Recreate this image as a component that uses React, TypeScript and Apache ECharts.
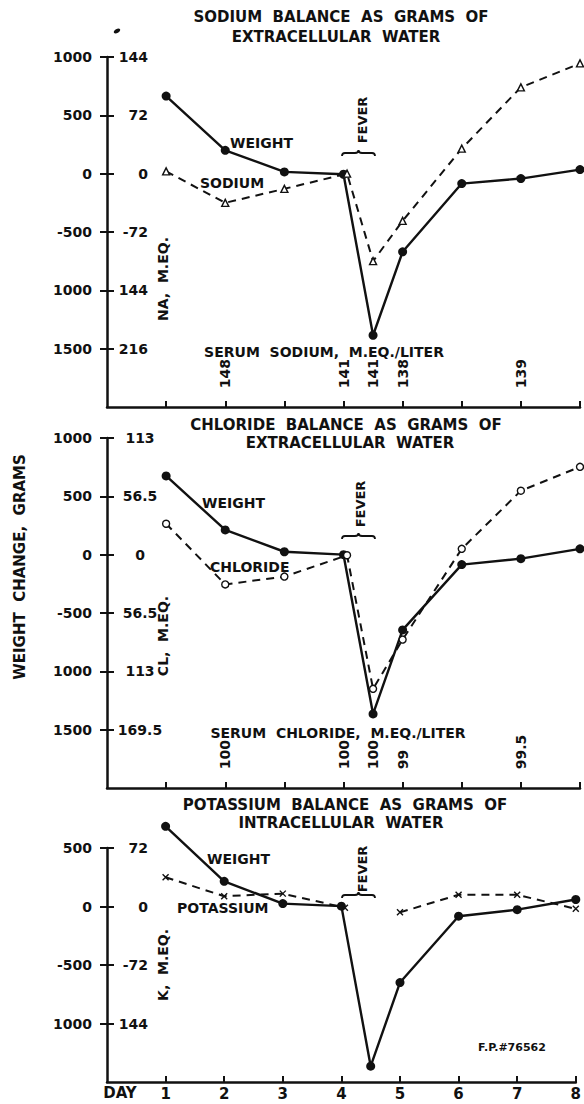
import React, { useEffect, useRef } from 'react';
import * as echarts from 'echarts';

// ---------- data ----------
const dayTicks = [1, 2, 3, 4, 5, 6, 7, 8];
const dayLabels = ['1', '2', '3', '4', '5', '6', '7', '8'];

const weightDays = [1, 2, 3, 4, 4.5, 5, 6, 7, 8];
const weightNaPanel = [665, 200, 15, -5, -1385, -670, -85, -42, 35];
const weightClPanel = [675, 212, 25, 0, -1365, -645, -85, -34, 50];
const weightKPanel = [685, 215, 25, 3, -1365, -650, -83, -27, 60];

const ionDays = [1, 2, 3, 4.06, 4.5, 5, 6, 7, 8];
const sodiumGrams = [20, -250, -130, 0, -750, -405, 215, 740, 945];
const chlorideGrams = [265, -255, -188, -5, -1150, -728, 50, 548, 753];
const potassiumGrams: (number | null)[] = [250, 88, 110, -10, null, -50, 100, 100, -20];

const serumNaDays = [2, 4, 4.5, 5, 7];
const serumNaLabels = ['148', '141', '141', '138', '139'];
const serumClDays = [2, 4, 4.5, 5, 7];
const serumClLabels = ['100', '100', '100', '99', '99.5'];

const naTickValues = [1000, 500, 0, -500, -1000, -1500];
const naWeightTicks = ['1000', '500', '0', '-500', '1000', '1500'];
const naMeqTicks = ['144', '72', '0', '-72', '144', '216'];
const clTickValues = [1000, 500, 0, -500, -1000, -1500];
const clWeightTicks = ['1000', '500', '0', '-500', '1000', '1500'];
const clMeqTicks = ['113', '56.5', '0', '56.5', '113', '169.5'];
const kTickValues = [500, 0, -500, -1000];
const kWeightTicks = ['500', '0', '-500', '1000'];
const kMeqTicks = ['72', '0', '-72', '144'];

// ---------- style ----------
const INK = '#111';
const FONT = '"DejaVu Sans", sans-serif';
const SERUM_LABEL_Y = -1840;

const zip = (xs: number[], ys: (number | null)[]) =>
  xs.map((x, i) => [x, ys[i] === null ? '-' : ys[i]]);

const txt = (text: string, x: number, y: number, opts: any = {}) => ({
  type: 'text',
  x,
  y,
  rotation: opts.rotation || 0,
  style: {
    text,
    fill: INK,
    fontFamily: FONT,
    fontWeight: 'bold',
    fontSize: opts.size || 14,
    align: opts.align || 'center',
    verticalAlign: 'middle',
  },
});

echarts.graphic.registerShape(
  'brace',
  echarts.graphic.extendPath(
    'M0,6 Q0,3 3,3 L13,3 Q16.5,3 16.5,0 Q16.5,3 20,3 L30,3 Q33,3 33,6',
    {}
  )
);

const brace = (x: number, y: number) => ({
  type: 'brace',
  x,
  y,
  style: { stroke: INK, fill: 'none', lineWidth: 1.8 },
});

function buildOption() {
  const grids = [
    { left: 107, top: 57, width: 473, height: 350 },
    { left: 107, top: 438, width: 473, height: 350 },
    { left: 107, top: 848, width: 473, height: 234 },
  ];
  const panels = [
    { min: -2000, max: 1000, vals: naTickValues, left: naWeightTicks, right: naMeqTicks, rAlign: 'right', rMargin: 41 },
    { min: -2000, max: 1000, vals: clTickValues, left: clWeightTicks, right: clMeqTicks, rAlign: 'center', rMargin: 33 },
    { min: -1500, max: 500, vals: kTickValues, left: kWeightTicks, right: kMeqTicks, rAlign: 'right', rMargin: 41 },
  ];

  const xAxis = grids.map((_, g) => ({
    type: 'value',
    gridIndex: g,
    min: 0,
    max: 8,
    interval: 1,
    splitLine: { show: false },
    axisLine: { show: true, onZero: false, lineStyle: { color: INK, width: 2.5 } },
    axisTick: {
      show: true,
      inside: true,
      length: 6,
      customValues: dayTicks,
      lineStyle: { color: INK, width: 2 },
    },
    axisLabel: {
      show: g === 2,
      customValues: dayTicks,
      formatter: (v: number) => dayLabels[dayTicks.indexOf(v)] ?? '',
      color: INK,
      fontFamily: FONT,
      fontWeight: 'bold',
      fontSize: 15,
      margin: 4,
    },
  }));

  const yAxis: any[] = [];
  panels.forEach((p, g) => {
    yAxis.push({
      type: 'value',
      gridIndex: g,
      min: p.min,
      max: p.max,
      interval: 500,
      position: 'left',
      splitLine: { show: false },
      axisLine: { show: true, onZero: false, lineStyle: { color: INK, width: 2.5 } },
      axisTick: { show: true, length: 7, customValues: p.vals, lineStyle: { color: INK, width: 2 } },
      axisLabel: {
        customValues: p.vals,
        formatter: (v: number) => p.left[p.vals.indexOf(v)] ?? '',
        color: INK,
        fontFamily: FONT,
        fontWeight: 'bold',
        fontSize: 14,
        margin: 15,
      },
    });
    yAxis.push({
      type: 'value',
      gridIndex: g,
      min: p.min,
      max: p.max,
      interval: 500,
      position: 'left',
      offset: 0,
      splitLine: { show: false },
      axisLine: { show: false, onZero: false },
      axisTick: { show: true, inside: true, length: 7, customValues: p.vals, lineStyle: { color: INK, width: 2 } },
      axisLabel: {
        inside: true,
        align: p.rAlign,
        customValues: p.vals,
        formatter: (v: number) => p.right[p.vals.indexOf(v)] ?? '',
        color: INK,
        fontFamily: FONT,
        fontWeight: 'bold',
        fontSize: 14,
        margin: p.rMargin,
      },
    });
  });

  const weightSeries = (g: number, data: number[]) => ({
    type: 'line',
    xAxisIndex: g,
    yAxisIndex: g * 2,
    data: zip(weightDays, data),
    clip: false,
    symbol: 'circle',
    symbolSize: 9,
    itemStyle: { color: INK },
    lineStyle: { color: INK, width: 2.4 },
    z: 3,
  });
  const ionSeries = (g: number, data: (number | null)[], symbol: string, size: number, fill: string) => ({
    type: 'line',
    xAxisIndex: g,
    yAxisIndex: g * 2,
    data: zip(ionDays, data),
    clip: false,
    connectNulls: false,
    symbol,
    symbolSize: size,
    showAllSymbol: true,
    itemStyle: { color: fill, borderColor: INK, borderWidth: 1.4 },
    lineStyle: { color: INK, width: 2, type: [8, 6] },
    z: 4,
  });
  const serumSeries = (g: number, days: number[], labels: string[]) => ({
    type: 'scatter',
    xAxisIndex: g,
    yAxisIndex: g * 2,
    symbolSize: 0,
    itemStyle: { color: INK, opacity: 1 },
    data: days.map((d) => [d, SERUM_LABEL_Y]),
    label: {
      show: true,
      position: 'inside',
      rotate: 90,
      align: 'left',
      verticalAlign: 'middle',
      formatter: (p: any) => labels[p.dataIndex],
      color: INK,
      opacity: 1,
      textBorderWidth: 0,
      textBorderColor: 'transparent',
      fontFamily: FONT,
      fontWeight: 'bold',
      fontSize: 14,
    },
  });

  const series = [
    weightSeries(0, weightNaPanel),
    ionSeries(0, sodiumGrams, 'triangle', 7, '#fff'),
    serumSeries(0, serumNaDays, serumNaLabels),
    weightSeries(1, weightClPanel),
    ionSeries(1, chlorideGrams, 'circle', 7, '#fff'),
    serumSeries(1, serumClDays, serumClLabels),
    weightSeries(2, weightKPanel),
    ionSeries(2, potassiumGrams, 'path://M0,0L10,10M10,0L0,10', 6, INK),
  ];

  const graphic = [
    // titles
    txt('SODIUM  BALANCE  AS  GRAMS  OF', 341, 17, { size: 15 }),
    txt('EXTRACELLULAR  WATER', 336, 37, { size: 15 }),
    txt('CHLORIDE  BALANCE  AS  GRAMS  OF', 346, 425, { size: 15 }),
    txt('EXTRACELLULAR  WATER', 350, 443, { size: 15 }),
    txt('POTASSIUM  BALANCE  AS  GRAMS  OF', 345, 805, { size: 15 }),
    txt('INTRACELLULAR  WATER', 341, 823, { size: 15 }),
    // series names
    txt('WEIGHT', 230, 143, { align: 'left' }),
    txt('SODIUM', 200, 183, { align: 'left' }),
    txt('WEIGHT', 202, 503, { align: 'left' }),
    txt('CHLORIDE', 210, 567, { align: 'left' }),
    txt('WEIGHT', 207, 859, { align: 'left' }),
    txt('POTASSIUM', 177, 908, { align: 'left' }),
    // serum headers
    txt('SERUM  SODIUM,  M.EQ./LITER', 324, 352),
    txt('SERUM  CHLORIDE,  M.EQ./LITER', 338, 733),
    // fever
    txt('FEVER', 362, 120, { rotation: Math.PI / 2, size: 13 }),
    brace(342, 150),
    txt('FEVER', 360, 504, { rotation: Math.PI / 2, size: 13 }),
    brace(342, 533),
    txt('FEVER', 362, 869, { rotation: Math.PI / 2, size: 13 }),
    brace(342, 892),
    // axis titles
    txt('NA,  M.EQ.', 163, 279, { rotation: Math.PI / 2 }),
    txt('CL,  M.EQ.', 163, 636, { rotation: Math.PI / 2 }),
    txt('K,  M.EQ.', 163, 965, { rotation: Math.PI / 2 }),
    txt('WEIGHT  CHANGE,  GRAMS', 20, 567, { rotation: Math.PI / 2, size: 15 }),
    txt('DAY', 120, 1093, { size: 15 }),
    txt('F.P.#76562', 512, 1047, { size: 11 }),
    {
      type: 'ellipse',
      x: 117,
      y: 31,
      rotation: 0.5,
      shape: { cx: 0, cy: 0, rx: 3.5, ry: 2 },
      style: { fill: INK },
    },
  ];

  return {
    animation: false,
    backgroundColor: '#fff',
    grid: grids,
    xAxis,
    yAxis,
    series,
    graphic,
  };
}

export default function App() {
  const ref = useRef<HTMLDivElement>(null);
  useEffect(() => {
    if (!ref.current) return;
    const chart = echarts.init(ref.current, undefined, { renderer: 'svg' });
    chart.setOption(buildOption() as any);
    return () => chart.dispose();
  }, []);
  return (
    <div
      ref={ref}
      style={{ position: 'absolute', left: 0, top: 0, width: 584, height: 1104, background: '#fff' }}
    />
  );
}
